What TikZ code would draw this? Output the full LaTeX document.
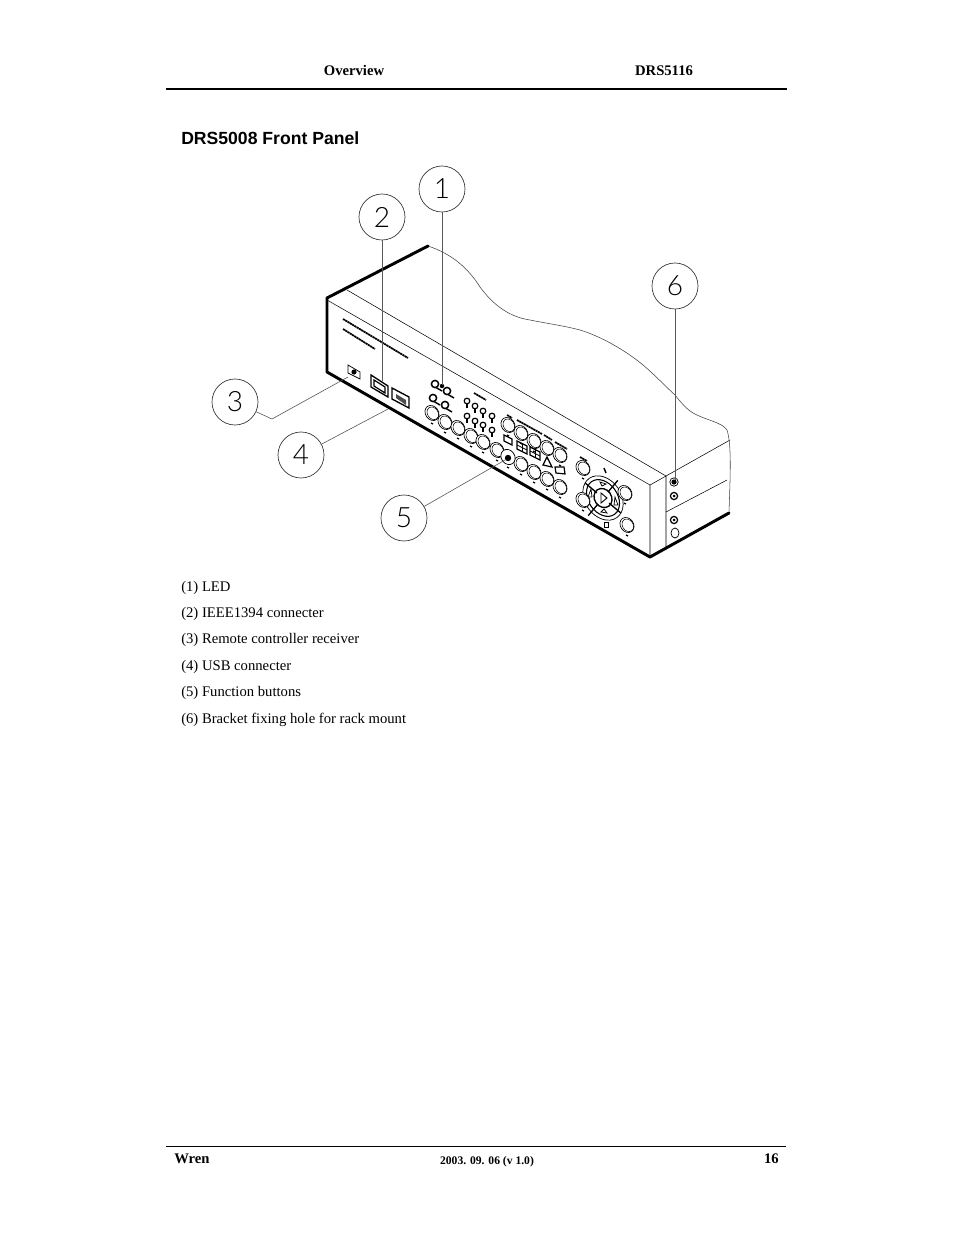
\documentclass[tikz,border=0pt]{standalone}
\usepackage{fontspec}
\usetikzlibrary{calc}
\setmainfont{Liberation Serif}
\newfontfamily\headfont{Liberation Sans}
\newfontfamily\digitfont{Lato Light}
\tikzset{
  callout/.style={circle, draw=black!80, line width=0.5pt, minimum size=34.5pt, inner sep=0pt, font=\digitfont\fontsize{21}{21}\selectfont},
  leader/.style={draw=black!65, line width=0.45pt},
  edge thick/.style={line width=2.2pt, line cap=round, line join=round},
  edge thin/.style={line width=0.4pt},
  wave/.style={draw=black!75, line width=0.4pt},
  partline/.style={line width=0.55pt},
  bar/.style={line width=1.3pt, dash pattern=on 1.6pt off 0.4pt},
  item/.style={anchor=base west, inner sep=0pt, font=\fontsize{11}{13}\selectfont},
  pagehead/.style={anchor=base, inner sep=0pt, font=\bfseries\fontsize{11}{13}\selectfont}
}
\begin{document}
\begin{tikzpicture}[x=0.75pt, y=-0.75pt]
   \useasboundingbox (0,0) rectangle (954,1235);
   \fill[white] (0,0) rectangle (954,1235);
   % header and footer
   \node[pagehead] (headleft) at (354,75) {Overview};
   \node[pagehead] (headright) at (664,75) {DRS5116};
   \draw[line width=1.5pt] (166,89) -- (787,89);
   \draw[line width=0.7pt] (166,1146) -- (786,1146);
   \node[pagehead, anchor=base west] (footleft) at (174,1163) {Wren};
   \node[pagehead, font=\bfseries\fontsize{8.7}{10}\selectfont] (footmid) at (487,1164) {2003. 09. 06 (v 1.0)};
   \node[pagehead, anchor=base east] (footright) at (779,1163) {16};
   \node[anchor=base west, inner sep=0pt, font=\headfont\bfseries\fontsize{13.2}{15}\selectfont] (title) at (181,144) {DRS5008 Front Panel};
   % item list
   \node[item] (item1) at (181,591) {(1) LED};
   \node[item] (item2) at (181,617) {(2) IEEE1394 connecter};
   \node[item] (item3) at (181,643) {(3) Remote controller receiver};
   \node[item] (item4) at (181,670) {(4) USB connecter};
   \node[item] (item5) at (181,696) {(5) Function buttons};
   \node[item] (item6) at (181,723) {(6) Bracket fixing hole for rack mount};
   % body outline
   \draw[edge thin] (327,300) -- (650,485) -- (650,557);
   \draw[edge thin] (347,290) -- (666,476) -- (730,440);
   \draw[edge thin] (650,485) -- (666,476) -- (666,547);
   \draw[edge thin] (666,512) -- (727,480);
   \draw[wave] (428,246) .. controls (452,254) and (468,268) .. (480,287)
      .. controls (494,306) and (510,317) .. (530,320)
      .. controls (550,324) and (565,326) .. (580,330)
      .. controls (600,336) and (625,350) .. (643,365)
      .. controls (655,375) and (665,386) .. (675,395)
      .. controls (682,404) and (688,410) .. (693,413)
      .. controls (705,420) and (722,422) .. (727,430)
      .. controls (732,445) and (730,480) .. (729,513);
   \draw[edge thick] (428,246) -- (327,298) -- (327,372) -- (650,557) -- (729,513);
   % front panel lettering
   \draw[bar] (343,319) -- (408,358);
   \draw[bar] (343,329) -- (375,349);
   \foreach \xa/\ya/\xb/\yb in {474/393/486/400, 507/415/512/418, 517/420/542/434, 544/435/552/440, 555/442/567/449, 580/457/587/461}
      \draw[bar] (\xa,\ya) -- (\xb,\yb);
   % receiver and ports
   \draw[partline] (348,365) -- (360,372) -- (360,379) -- (348,373) -- cycle;
   \fill (354,372) circle (2.6);
   \draw[line width=1pt] (371,375) -- (388,386) -- (388,397) -- (371,387) -- cycle;
   \draw[line width=0.9pt] (374,380) -- (385,387) -- (385,393) -- (374,386) -- cycle;
   \draw[line width=1pt] (392,388) -- (409,397) -- (409,408) -- (392,399) -- cycle;
   \fill[black!70] (396,394) -- (406,400) -- (406,405) -- (396,398) -- cycle;
   % led group
   \foreach \x/\y in {435/384, 447/391, 433/398, 445/405} {
      \draw[line width=1.1pt] (\x,\y) circle (3.6);
      \draw[line width=1.1pt] (\x+1,\y+3.5) -- (\x+7,\y+7);
   }
   \fill (442,386) circle (2.2);
   % small knobs
   \foreach \x/\y in {467/401, 475/406, 483/411, 492/416, 467/416, 475/421, 483/425, 492/430} {
      \draw[line width=0.9pt] (\x,\y) circle (2.8);
      \draw[line width=0.9pt] (\x,\y+3) -- (\x,\y+7);
   }
   % dial
   \draw[partline, rotate around={-55:(603,498)}] (603,498) ellipse (24 and 18);
   \draw[line width=0.8pt, rotate around={-55:(603,498)}] (603,498) ellipse (20 and 14.5);
   \draw[line width=1pt, rotate around={-55:(603,498)}] (603,498) ellipse (10 and 8.5);
   \foreach \a in {40, 130, 220, 310}
      \draw[line width=1pt] ($(603,498)+(\a:8)$) -- ($(603,498)+(\a:23)$);
   \draw[line width=0.7pt] (601,493) -- (601,503) -- (607,498) -- cycle;
   \draw[partline] (591,489) -- (588,497) -- (592,497) -- cycle;
   \draw[partline] (600,482) -- (606,484) -- (602,486) -- cycle;
   \draw[partline] (601,512) -- (607,513) -- (604,509) -- cycle;
   \draw[partline] (615,497) -- (618,505) -- (614,505) -- cycle;
   \draw[line width=1.1pt] (604,468) -- (606,473);
   \draw[partline] (604,522) rectangle (608,527);
   % function buttons
   \foreach \x/\y in {432/413, 445/422, 458/428, 471/436, 483/442, 497/450, 521/464, 534/472, 547/479, 560/487, 508/425, 521/433, 534/441, 547/448, 560/455, 583/468, 583/500, 625/493, 627/525} {
      \draw[line width=0.5pt, fill=white, rotate around={-55:(\x,\y)}] (\x,\y) ellipse (8 and 6.5);
      \draw[line width=0.4pt, rotate around={-55:(\x,\y)}] (\x+0.7,\y-0.5) ellipse (6.7 and 5.3);
      \draw[line width=1pt] (\x-1,\y+10) -- (\x+1,\y+11);
   }
   \draw[partline, fill=white, rotate around={-55:(508,457)}] (508,457) ellipse (8 and 6.7);
   \fill (508,458) circle (3.2);
   \draw[line width=1pt] (507,467) -- (509,468);
   % panel icons
   \foreach \x/\y in {522/447, 535/453} {
      \draw[line width=0.9pt] (\x-5,\y-6) -- (\x+5,\y-1) -- (\x+5,\y+7) -- (\x-5,\y+2) -- cycle;
      \draw[partline] (\x,\y-3.5) -- (\x,\y+4.5);
      \draw[partline] (\x-5,\y-2) -- (\x+5,\y+3);
   }
   \draw[line width=1pt] (504,435) -- (512,439) -- (512,445) -- (504,441) -- cycle;
   \draw[line width=0.9pt] (543,465) -- (547,457) -- (552,467) -- cycle;
   \draw[line width=0.9pt] (555,467) -- (564,467) -- (565,474) -- (556,473) -- cycle;
   % side holes
   \draw[partline] (674,482) circle (4.2);
   \fill (674,482) circle (2.6);
   \foreach \y in {496, 520} {
      \draw[line width=0.9pt] (674,\y) circle (3.6);
      \fill (674,\y) circle (1.5);
   }
   \draw[partline] (675,533) ellipse (4 and 5);
   % callouts
   \node[callout] (c1) at (442,189) {1};
   \node[callout] (c2) at (382,217) {2};
   \node[callout] (c3) at (235,402) {3};
   \node[callout] (c4) at (301,455) {4};
   \node[callout] (c5) at (404,518) {5};
   \node[callout] (c6) at (675,286) {6};
   \coordinate (led) at (442,385);
   \coordinate (firewire) at (382,381);
   \coordinate (bend3) at (272,419);
   \coordinate (receiver) at (348,377);
   \coordinate (usb) at (388,409);
   \coordinate (button) at (505,460);
   \coordinate (hole) at (675,480);
   \draw[leader] (c1) -- (led);
   \draw[leader] (c2) -- (firewire);
   \draw[leader] (c3) -- (bend3) -- (receiver);
   \draw[leader] (c4) -- (usb);
   \draw[leader] (c5) -- (button);
   \draw[leader] (c6) -- (hole);
\end{tikzpicture}
\end{document}
